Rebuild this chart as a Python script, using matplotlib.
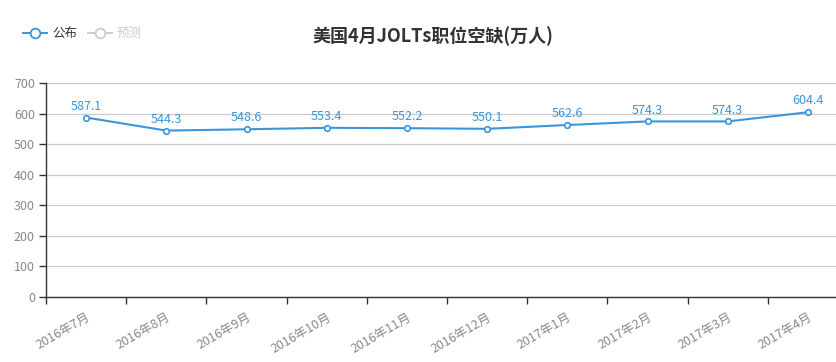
import numpy as np
import matplotlib
matplotlib.use("Agg")
import matplotlib.pyplot as plt
from matplotlib.lines import Line2D

plt.rcParams["font.family"] = ["Noto Sans CJK SC", "DejaVu Sans"]

title = "美国4月JOLTs职位空缺(万人)"
months = ["2016年7月", "2016年8月", "2016年9月", "2016年10月", "2016年11月",
          "2016年12月", "2017年1月", "2017年2月", "2017年3月", "2017年4月"]
values = [587.1, 544.3, 548.6, 553.4, 552.2, 550.1, 562.6, 574.3, 574.3, 604.4]
legend_names = ["公布", "预测"]
yticks = [0, 100, 200, 300, 400, 500, 600, 700]

W, H = 837, 362
blue = "#3a96dc"
fig = plt.figure(figsize=(W / 100, H / 100), dpi=100)

# plot area: y axis at x=46, 0 at y=297, 700 at y=83; bands 80.2 px wide (runs past right edge)
left, right = 46, 46 + 80.2 * len(months)
top, bottom = 83, 297
ax = fig.add_axes([left / W, 1 - bottom / H, (right - left) / W, (bottom - top) / H])

x = np.arange(len(months)) + 0.5
ax.plot(x, values, color=blue, lw=1.5, marker="o", ms=4, mfc="white",
        mec=blue, mew=1.2, zorder=3, clip_on=False)
for xi, v in zip(x, values):
    ax.annotate(f"{v:.1f}", (xi, v), xytext=(0, 3.5), textcoords="offset points",
                ha="center", va="bottom", color=blue, fontsize=9)

ax.set_xlim(0, len(months))
ax.set_ylim(0, 700)
ax.set_yticks(yticks)
ax.grid(axis="y", color="#cccccc", lw=0.9)
ax.set_axisbelow(True)

ax.set_xticks(x)
ax.set_xticklabels(months, rotation=30, ha="right", rotation_mode="anchor",
                   fontsize=9, color="#888888")
ax.set_xticks(np.arange(len(months) + 1), minor=True)
ax.tick_params(axis="x", which="major", length=0, pad=10)
ax.tick_params(axis="x", which="minor", length=5, color="#333333", width=1)
ax.tick_params(axis="y", length=5, color="#333333", width=1, labelsize=9,
               labelcolor="#888888", pad=3)

for s in ["top", "right"]:
    ax.spines[s].set_visible(False)
for s in ["left", "bottom"]:
    ax.spines[s].set_color("#333333")
    ax.spines[s].set_linewidth(1)

fig.text(433 / W, 1 - 36 / H, title, ha="center", va="center", fontsize=13,
         fontweight="bold", color="#333333")

# legend
leg_colors = [blue, "#cccccc"]
leg_text = ["#333333", "#cccccc"]
lx = [23, 88]
for name, c, tc, x0 in zip(legend_names, leg_colors, leg_text, lx):
    yy = 1 - 33 / H
    fig.add_artist(Line2D([x0 / W, (x0 + 24) / W], [yy, yy], color=c, lw=1.4,
                          transform=fig.transFigure))
    fig.add_artist(Line2D([(x0 + 12) / W], [yy], marker="o", ms=7, mfc="white",
                          mec=c, mew=1.3, transform=fig.transFigure))
    fig.text((x0 + 29) / W, yy, name, ha="left", va="center", fontsize=9, color=tc)

fig.savefig("out.png", dpi=100)
